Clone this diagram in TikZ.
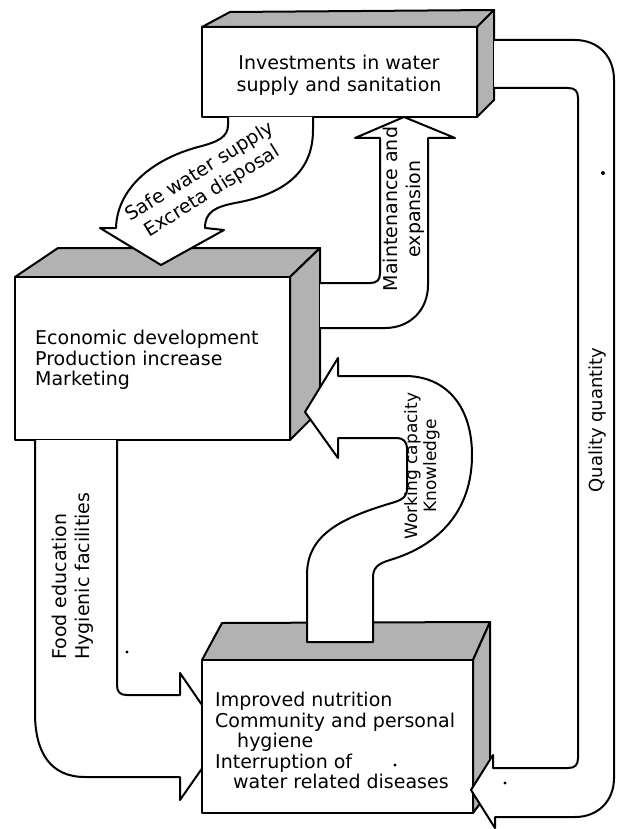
\documentclass[tikz,border=0pt]{standalone}
\usepackage{fontspec}
\setmainfont{DejaVu Sans}

\begin{document}
\begin{tikzpicture}[x=1pt,y=-1pt,line join=round,
    face/.style={draw,line width=2pt,fill=black!30},
    frontbox/.style={draw,line width=2.4pt,fill=white},
    pipe/.style={draw,line width=2pt,fill=white},
    boxtext/.style={inner sep=0pt,font=\fontsize{19}{20.5}\selectfont},
    pipetext/.style={inner sep=0pt,align=center,font=\fontsize{19}{23}\selectfont}]
  \useasboundingbox (0,0) rectangle (618,829);

  % Box: investments
  \draw[face] (202,27) -- (230,12) -- (494,10) -- (477,27) -- cycle; % top face
  \draw[face] (477,27) -- (494,10) -- (494,100) -- (477,117) -- cycle; % side face
  \draw[frontbox] (202,27) rectangle (477,117); % front face
  \node[boxtext,align=center,font=\fontsize{19}{22}\selectfont] (invest) at (339,75)
    {Investments in water\\supply and sanitation};

  % Box: economic development
  \draw[face] (15,277) -- (58,248) -- (320,248) -- (290,277) -- cycle; % top face
  \draw[face] (290,277) -- (320,248) -- (320,410) -- (290,440) -- cycle; % side face
  \draw[frontbox] (15,277) rectangle (290,440); % front face
  \node[boxtext,align=left,anchor=north west] (econ) at (35,330)
    {Economic development\\Production increase\\Marketing};

  % Pipe: food education (its tip goes under the lower box)
  \draw[pipe] (35,440) -- (35,713) .. controls (35,752) and (50,777) .. (85,777)
    -- (180,777) -- (180,800) -- (224,737) -- (180,673) -- (180,695) -- (127,695)
    .. controls (120,695) and (117,692) .. (117,685) -- (117,440);
  \node[pipetext,align=left,rotate=90,anchor=west] (food) at (73,660)
    {Food education\\Hygienic facilities};

  % Box: improved health
  \draw[face] (202,660) -- (222,623) -- (490,622) -- (473,660) -- cycle; % top face
  \draw[face] (473,660) -- (490,622) -- (490,790) -- (473,813) -- cycle; % side face
  \draw[frontbox] (202,660) rectangle (473,813); % front face
  \node[boxtext,align=left,anchor=north west] (health) at (215,692)
    {Improved nutrition\\Community and personal\\\hspace*{22pt}hygiene\\Interruption of\\\hspace*{18pt}water related diseases};

  % Pipe: safe water supply
  \draw[pipe] (228,117) -- (228,125) .. controls (228,137) and (218,142) .. (198,147)
    .. controls (150,160) and (117,190) .. (116,228) -- (100,228) -- (161,265)
    -- (224,230) -- (205,228) .. controls (205,212) and (215,207) .. (235,203)
    .. controls (280,195) and (313,175) .. (313,130) -- (313,117);
  \node[pipetext,rotate=32] (water) at (206,182) {Safe water supply\\Excreta disposal};

  % Pipe: maintenance
  \draw[pipe] (320,283) -- (370,283) .. controls (377,283) and (380,280) .. (380,273)
    -- (380,138) -- (355,138) -- (404,117) -- (455,138) -- (428,138) -- (428,285)
    .. controls (428,310) and (410,328) .. (385,328) -- (320,328);
  \node[pipetext,rotate=90] (maint) at (404,209) {Maintenance and\\expansion};

  % Pipe: working capacity
  \draw[pipe] (307,642) -- (307,575) .. controls (307,535) and (340,518) .. (395,502)
    .. controls (403,499) and (407,497) .. (407,488) -- (407,448)
    .. controls (407,442) and (403,438) .. (397,438) -- (338,438) -- (338,458)
    -- (305,412) -- (338,358) -- (338,376) -- (405,376)
    .. controls (445,376) and (472,405) .. (472,455)
    .. controls (472,510) and (440,545) .. (390,560)
    .. controls (377,564) and (373,568) .. (373,578) -- (373,642) -- cycle;
  \node[pipetext,rotate=90,font=\fontsize{17}{19}\selectfont] (work) at (422,466)
    {Working capacity\\Knowledge};

  % Pipe: quality quantity
  \draw[pipe] (494,40) -- (575,40) .. controls (598,40) and (614,56) .. (614,80)
    -- (614,778) .. controls (614,801) and (598,817) .. (575,817) -- (495,817)
    -- (495,828) -- (471,790) -- (493,755) -- (493,768) -- (568,768)
    .. controls (575,768) and (578,765) .. (578,758) -- (578,98)
    .. controls (578,91) and (575,88) .. (568,88) -- (494,88);
  \node[pipetext,rotate=90,font=\fontsize{18}{20}\selectfont] (quality) at (598,420)
    {Quality quantity};

  % stray dots
  \fill (603,173) circle[radius=2pt];
  \fill (127,652) circle[radius=1.6pt];
  \fill (395,765) circle[radius=1.6pt];
  \fill (505,783) circle[radius=1.6pt];
\end{tikzpicture}
\end{document}
